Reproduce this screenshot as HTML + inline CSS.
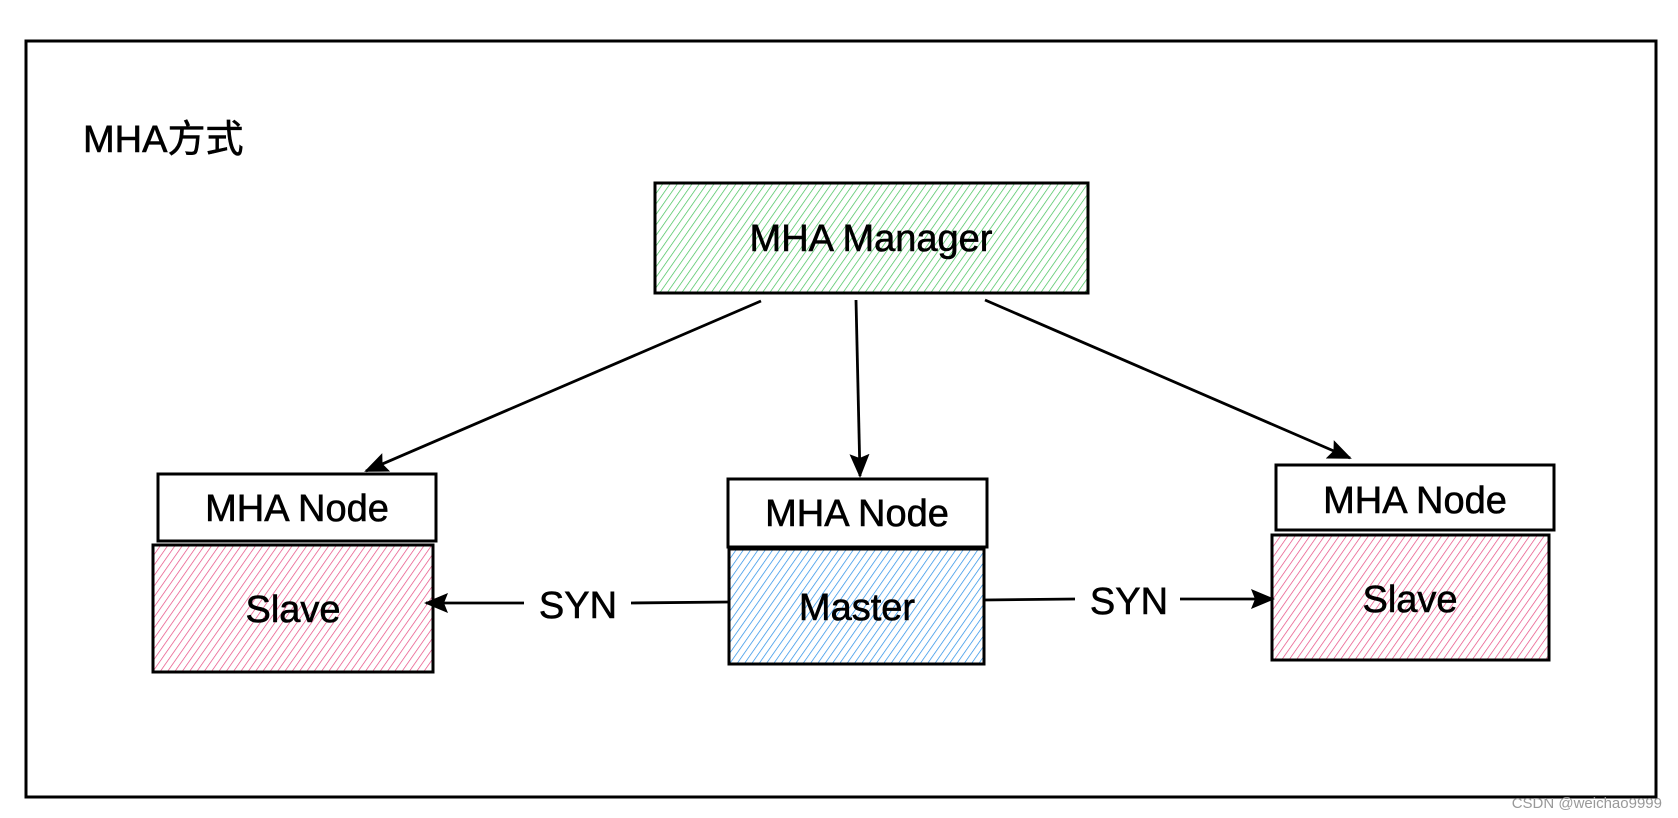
<!DOCTYPE html>
<html><head><meta charset="utf-8"><style>
html,body{margin:0;padding:0;background:#fff;}
svg{display:block;}
text{font-family:"Liberation Sans","Noto Sans CJK SC",sans-serif;fill:#000;}
</style></head><body>
<svg width="1678" height="818" viewBox="0 0 1678 818" xmlns="http://www.w3.org/2000/svg">
<defs>
<pattern id="hg" patternUnits="userSpaceOnUse" width="6" height="6" patternTransform="rotate(35)">
<line x1="0" y1="0" x2="0" y2="6" stroke="#40c057" stroke-width="1.4"/></pattern>
<pattern id="hp" patternUnits="userSpaceOnUse" width="6" height="6" patternTransform="rotate(35)">
<line x1="0" y1="0" x2="0" y2="6" stroke="#e64980" stroke-width="1.4"/></pattern>
<pattern id="hb" patternUnits="userSpaceOnUse" width="6" height="6" patternTransform="rotate(35)">
<line x1="0" y1="0" x2="0" y2="6" stroke="#228be6" stroke-width="1.4"/></pattern>
<marker id="ar" markerWidth="24" markerHeight="20" refX="22" refY="10" orient="auto" markerUnits="userSpaceOnUse">
<path d="M0,0 L24,10 L0,20 L4,10 Z" fill="#000"/></marker>
</defs>
<g fill="none" stroke="#000" stroke-width="3">
<rect x="26" y="41" width="1630" height="756"/>
<rect x="655" y="183" width="433" height="110" fill="url(#hg)"/>
<rect x="158" y="474" width="278" height="67" fill="#fff"/>
<rect x="153" y="545" width="280" height="127" fill="url(#hp)"/>
<rect x="728" y="479" width="259" height="68" fill="#fff"/>
<rect x="729" y="549" width="255" height="115" fill="url(#hb)"/>
<rect x="1276" y="465" width="278" height="65" fill="#fff"/>
<rect x="1272" y="535" width="277" height="125" fill="url(#hp)"/>
</g>
<g stroke="#000" stroke-width="2.8" fill="none">
<line x1="761" y1="301" x2="366" y2="471" marker-end="url(#ar)"/>
<line x1="856" y1="300" x2="860" y2="476" marker-end="url(#ar)"/>
<line x1="985" y1="300" x2="1350" y2="458" marker-end="url(#ar)"/>
<line x1="729" y1="602" x2="631" y2="603"/>
<line x1="524" y1="603" x2="426" y2="603" marker-end="url(#ar)"/>
<line x1="984" y1="600" x2="1075" y2="599"/>
<line x1="1180" y1="599" x2="1273" y2="599" marker-end="url(#ar)"/>
</g>
<g style="stroke:#000;stroke-width:0.6">
<text x="83" y="152" font-size="38">MHA方式</text>
<g font-size="38" text-anchor="middle">
<text x="871" y="251">MHA Manager</text>
<text x="297" y="521">MHA Node</text>
<text x="293" y="622">Slave</text>
<text x="857" y="526">MHA Node</text>
<text x="857" y="620">Master</text>
<text x="1415" y="513">MHA Node</text>
<text x="1410" y="612">Slave</text>
<text x="578" y="618">SYN</text>
<text x="1129" y="614">SYN</text>
</g>
</g>
<text x="1662" y="808" font-size="15" text-anchor="end" style="fill:#999">CSDN @weichao9999</text>
</svg>
</body></html>
